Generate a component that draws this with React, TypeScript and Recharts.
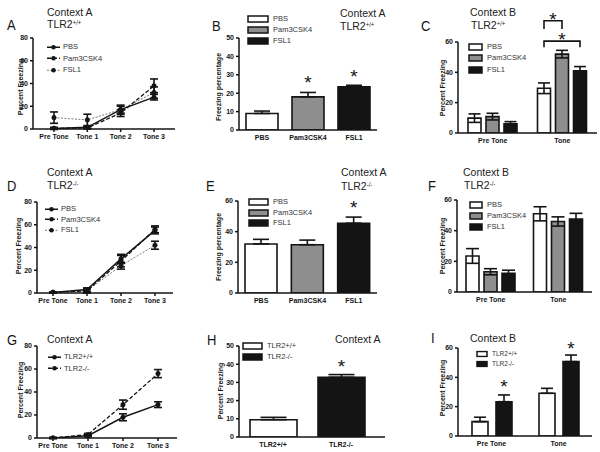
import React from 'react';
import { ComposedChart, Bar, Line, XAxis, YAxis, ErrorBar, LabelList, Cell } from 'recharts';

const FONT = '"Liberation Sans", Arial, Helvetica, sans-serif';
const INK = '#141414';
const GREY = '#8e8e8e';
const WHITE = '#ffffff';

// ---------- categories ----------
const timeCats = ['Pre Tone', 'Tone 1', 'Tone 2', 'Tone 3'];
const drugCats = ['PBS', 'Pam3CSK4', 'FSL1'];
const phaseCats = ['Pre Tone', 'Tone'];
const genoCats = ['TLR2+/+', 'TLR2-/-'];

// ---------- tick labels ----------
const ticks80 = [0, 20, 40, 60, 80];
const ticks60 = [0, 20, 40, 60];
const ticks50 = [0, 10, 20, 30, 40, 50];

// ---------- A : Context A, TLR2+/+ ----------
const aPbs = [0.5, 1.5, 17, 28];
const aPbsErr = [0.8, 1, 3, 2.5];
const aPam = [0.5, 1, 14, 38];
const aPamErr = [0.8, 1, 3, 6];
const aFsl = [10, 8, 17, 32];
const aFslErr = [5, 5, 4, 5];

// ---------- B ----------
const bMean = [9, 18, 23.5];
const bErr = [1.3, 2.4, 0.8];
const bStar = [null, 28, 31.5];

// ---------- C : Context B, TLR2+/+ ----------
const cPbs = [9.8, 29.5];
const cPbsErr = [2.8, 3.5];
const cPam = [10.8, 52];
const cPamErr = [2.2, 2.5];
const cFsl = [6, 41];
const cFslErr = [1.5, 2.8];
const cBracketSpan = [1, 2];
const cBracketTop = [74, 60.6];
const cBracketFoot = [68.5, 56.5];
const cBracketStar = [77.5, 64.5];

// ---------- D : Context A, TLR2-/- ----------
const dPbs = [0.5, 3, 30, 55];
const dPbsErr = [0.5, 1.5, 4, 3];
const dPam = [0.5, 2, 28, 56];
const dPamErr = [0.5, 2, 5, 3];
const dFsl = [0.5, 2, 24, 42];
const dFslErr = [0.5, 1.5, 3, 3.5];

// ---------- E ----------
const eMean = [32, 31.5, 45.5];
const eErr = [3, 3, 4];
const eStar = [null, null, 59];

// ---------- F : Context B, TLR2-/- ----------
const fPbs = [23.5, 51];
const fPbsErr = [4.8, 4.6];
const fPam = [13.2, 46];
const fPamErr = [2, 3];
const fFsl = [12.2, 47.5];
const fFslErr = [2, 3.8];

// ---------- G ----------
const gWt = [0, 2, 18, 29];
const gWtErr = [0.5, 1, 3, 2.5];
const gKo = [0, 3, 29, 56];
const gKoErr = [0.5, 1, 4, 3.5];

// ---------- H ----------
const hMean = [9.5, 32.8];
const hErr = [1.3, 1.5];
const hStar = [null, 41.4];

// ---------- I ----------
const iWt = [9.8, 29.1];
const iWtErr = [3, 3.4];
const iKo = [23.4, 50.7];
const iKoErr = [4.6, 4.5];
const iStar = [37, 63];

// ================= helpers =================
type Box = { left: number; top: number; axisX: number; yTop: number; yZero: number; axisEnd: number };
const axisStroke = { stroke: INK, strokeWidth: 1.5 };
const tickFont = { fontSize: 7, fontWeight: 700, fill: INK, fontFamily: FONT };

function dims(b: Box) {
  return {
    width: b.axisEnd - b.left + 2,
    height: b.yZero - b.top + 24,
    margin: { top: b.yTop - b.top, right: 2, bottom: 0, left: 0 },
  };
}

function xAxisEl(pad: { left: number; right: number }, tickLine: boolean) {
  return (
    <XAxis
      dataKey="name"
      type="category"
      height={24}
      padding={pad}
      tick={tickFont}
      tickSize={3}
      tickLine={tickLine ? axisStroke : false}
      axisLine={axisStroke}
      interval={0}
    />
  );
}

function yAxisEl(b: Box, ticks: number[]) {
  return (
    <YAxis
      type="number"
      domain={[0, ticks[ticks.length - 1]]}
      ticks={ticks}
      width={b.axisX - b.left}
      tick={tickFont}
      tickSize={3}
      tickLine={axisStroke}
      axisLine={axisStroke}
      interval={0}
      allowDataOverflow
    />
  );
}

function geom(p: any) {
  const vb = p.viewBox && typeof p.viewBox.x === 'number' ? p.viewBox : p;
  const x = Number(vb.x);
  const y = Number(vb.y);
  const w = Number(vb.width);
  const h = Number(vb.height);
  const top = Math.min(y, y + h);
  const hh = Math.abs(h);
  return { x, w, top, h: hh, base: top + hh };
}

function starText(x: number, y: number, key: string) {
  return (
    <text key={key} x={x} y={y + 11} textAnchor="middle" fontSize={19} fontFamily={FONT} fill={INK}>
      *
    </text>
  );
}

const starLabel = (vals: number[], stars: (number | null)[]) => (props: any) => {
  const i = props.index;
  const s = stars[i];
  if (s == null) return null;
  const g = geom(props);
  const k = g.h / vals[i];
  return starText(g.x + g.w / 2, g.base - s * k, 'st' + i);
};

const cBracketLabel = (vals: number[], gap: number) => (props: any) => {
  const i = props.index;
  if (i !== 1) return null;
  const g = geom(props);
  const k = g.h / vals[i];
  const x0 = g.x + g.w / 2;
  const step = g.w + gap;
  return (
    <g key="brackets">
      {cBracketSpan.map((span, j) => {
        const x1 = x0 + span * step;
        const yt = g.base - cBracketTop[j] * k;
        const yf = g.base - cBracketFoot[j] * k;
        const ys = g.base - cBracketStar[j] * k;
        return (
          <g key={j}>
            <path d={`M${x0},${yf}V${yt}H${x1}V${yf}`} fill="none" stroke={INK} strokeWidth={1.6} />
            {starText((x0 + x1) / 2, ys, 'bs' + j)}
          </g>
        );
      })}
    </g>
  );
};

// ================= panels =================
type LS = { key: string; vals: number[]; errs: number[]; stroke: string; width: number; dash?: string };

function LinePanel({ box, series, ticks, pad }: { box: Box; series: LS[]; ticks: number[]; pad: { left: number; right: number } }) {
  const data = timeCats.map((name, i) => {
    const row: Record<string, any> = { name };
    series.forEach((s) => {
      row[s.key] = s.vals[i];
      row[s.key + 'Err'] = s.errs[i];
    });
    return row;
  });
  const d = dims(box);
  return (
    <div style={{ position: 'absolute', left: box.left, top: box.top }}>
      <ComposedChart width={d.width} height={d.height} margin={d.margin} data={data}>
        {xAxisEl(pad, true)}
        {yAxisEl(box, ticks)}
        {series.map((l) => (
          <Line
            key={l.key}
            dataKey={l.key}
            type="linear"
            stroke={l.stroke}
            strokeWidth={l.width}
            strokeDasharray={l.dash}
            dot={{ r: 2.3, fill: INK, stroke: INK, strokeWidth: 0.5, strokeDasharray: 'none' }}
            activeDot={false}
            isAnimationActive={false}
          >
            <ErrorBar dataKey={l.key + 'Err'} width={4} strokeWidth={1.6} stroke={INK} direction="y" />
          </Line>
        ))}
      </ComposedChart>
    </div>
  );
}

function CatBarPanel({ box, cats, vals, errs, stars, fills, ticks, barSize, cap, pad }: any) {
  const data = cats.map((name: string, i: number) => ({ name, v: vals[i], e: [0, errs[i]] }));
  const d = dims(box);
  return (
    <div style={{ position: 'absolute', left: box.left, top: box.top }}>
      <ComposedChart width={d.width} height={d.height} margin={d.margin} data={data}>
        {xAxisEl(pad, false)}
        {yAxisEl(box, ticks)}
        <Bar dataKey="v" barSize={barSize} stroke={INK} strokeWidth={1.6} isAnimationActive={false}>
          {cats.map((c: string, i: number) => (
            <Cell key={c} fill={fills[i]} />
          ))}
          <ErrorBar dataKey="e" width={cap} strokeWidth={1.6} stroke={INK} direction="y" />
          <LabelList dataKey="v" content={starLabel(vals, stars)} />
        </Bar>
      </ComposedChart>
    </div>
  );
}

type BS = { key: string; vals: number[]; errs: number[]; fill: string; stars?: (number | null)[] };

function GroupBarPanel({ box, cats, series, ticks, barSize, barGap, cap, upper, brackets }: any) {
  const data = cats.map((name: string, i: number) => {
    const row: Record<string, any> = { name };
    (series as BS[]).forEach((s) => {
      row[s.key] = s.vals[i];
      row[s.key + 'Err'] = upper ? [0, s.errs[i]] : s.errs[i];
    });
    return row;
  });
  const d = dims(box);
  return (
    <div style={{ position: 'absolute', left: box.left, top: box.top }}>
      <ComposedChart width={d.width} height={d.height} margin={d.margin} data={data} barGap={barGap} barSize={barSize}>
        {xAxisEl({ left: 0, right: 0 }, false)}
        {yAxisEl(box, ticks)}
        {(series as BS[]).map((s, si) => (
          <Bar key={s.key} dataKey={s.key} fill={s.fill} barSize={barSize} stroke={INK} strokeWidth={1.6} isAnimationActive={false}>
            <ErrorBar dataKey={s.key + 'Err'} width={cap} strokeWidth={1.6} stroke={INK} direction="y" />
            {s.stars ? <LabelList dataKey={s.key} content={starLabel(s.vals, s.stars)} /> : null}
            {si === 0 && brackets ? <LabelList dataKey={s.key} content={brackets(s.vals, barGap)} /> : null}
          </Bar>
        ))}
      </ComposedChart>
    </div>
  );
}

// ================= text overlays =================
function Txt({ x, y, size, weight = 400, color = INK, sy = 1, children }: any) {
  return (
    <div
      style={{
        position: 'absolute',
        left: x,
        top: y,
        fontSize: size,
        fontWeight: weight,
        color,
        fontFamily: FONT,
        lineHeight: 1,
        whiteSpace: 'nowrap',
        transform: `translateY(-50%) scaleY(${sy})`,
        transformOrigin: 'left center',
      }}
    >
      {children}
    </div>
  );
}

function Geno({ x, y, sup }: { x: number; y: number; sup: string }) {
  return (
    <Txt x={x} y={y} size={10.5} sy={1.05} color="#222">
      TLR2<span style={{ fontSize: 6, position: 'relative', top: -3 }}>{sup}</span>
    </Txt>
  );
}

function Title({ x, y, text }: { x: number; y: number; text: string }) {
  return (
    <Txt x={x} y={y} size={10.5} sy={1.05} color="#222">
      {text}
    </Txt>
  );
}

function VLabel({ x, y, text }: { x: number; y: number; text: string }) {
  return (
    <div
      style={{
        position: 'absolute',
        left: x,
        top: y,
        transform: 'translate(-50%,-50%) rotate(-90deg)',
        fontSize: 7,
        fontWeight: 700,
        fontFamily: FONT,
        whiteSpace: 'nowrap',
        lineHeight: 1,
        color: INK,
      }}
    >
      {text}
    </div>
  );
}

function LineLegend({ x, y, dy, items }: { x: number; y: number; dy: number; items: { label: string; stroke: string; dash?: string; width: number }[] }) {
  return (
    <>
      {items.map((it, i) => (
        <div key={it.label} style={{ position: 'absolute', left: x, top: y + i * dy, transform: 'translateY(-50%)', display: 'flex', alignItems: 'center' }}>
          <svg width={13} height={6} style={{ display: 'block' }}>
            <line x1={0} y1={3} x2={13} y2={3} stroke={it.stroke} strokeWidth={it.width} strokeDasharray={it.dash} />
            <circle cx={6.5} cy={3} r={2.3} fill={INK} />
          </svg>
          <span style={{ marginLeft: 3, fontSize: 7.5, color: '#333', fontFamily: FONT, lineHeight: 1 }}>{it.label}</span>
        </div>
      ))}
    </>
  );
}

function BoxLegend({ x, y, dy, bw, bh, items, fs = 7.5 }: { x: number; y: number; dy: number; bw: number; bh: number; items: { label: string; fill: string }[]; fs?: number }) {
  return (
    <>
      {items.map((it, i) => (
        <div key={it.label} style={{ position: 'absolute', left: x, top: y + i * dy, transform: 'translateY(-50%)', display: 'flex', alignItems: 'center' }}>
          <svg width={bw + 2} height={bh + 2} style={{ display: 'block' }}>
            <rect x={1} y={1} width={bw} height={bh} fill={it.fill} stroke={INK} strokeWidth={1.5} />
          </svg>
          <span style={{ marginLeft: 4, fontSize: fs, color: '#333', fontFamily: FONT, lineHeight: 1 }}>{it.label}</span>
        </div>
      ))}
    </>
  );
}

// ================= layout =================
const boxA: Box = { left: 0, top: 0, axisX: 33, yTop: 38, yZero: 129, axisEnd: 175 };
const boxB: Box = { left: 200, top: 0, axisX: 239, yTop: 38, yZero: 130, axisEnd: 377 };
const boxC: Box = { left: 400, top: 0, axisX: 458, yTop: 42, yZero: 133, axisEnd: 597 };
const boxD: Box = { left: 0, top: 150, axisX: 37, yTop: 202, yZero: 293, axisEnd: 173 };
const boxE: Box = { left: 200, top: 150, axisX: 238, yTop: 201, yZero: 293, axisEnd: 377 };
const boxF: Box = { left: 400, top: 150, axisX: 457, yTop: 200, yZero: 292, axisEnd: 592 };
const boxG: Box = { left: 0, top: 300, axisX: 37, yTop: 346, yZero: 438, axisEnd: 177 };
const boxH: Box = { left: 200, top: 300, axisX: 239, yTop: 346, yZero: 437, axisEnd: 385 };
const boxI: Box = { left: 400, top: 300, axisX: 458, yTop: 348, yZero: 436, axisEnd: 592 };

const pbsStyle = { stroke: INK, width: 1.5, dash: undefined as string | undefined };
const pamStyle = { stroke: INK, width: 1.3, dash: '4 2' };
const fslStyle = { stroke: '#7a7a7a', width: 1, dash: '2 1.5' };
const drugFills = [WHITE, GREY, INK];
const genoFills = [WHITE, INK];

const drugLineItems = drugCats.map((label, i) => ({ label, ...[pbsStyle, pamStyle, fslStyle][i] }));
const genoLineItems = genoCats.map((label, i) => ({ label, ...[pbsStyle, pamStyle][i] }));
const drugBoxItems = drugCats.map((label, i) => ({ label, fill: drugFills[i] }));
const genoBoxItems = genoCats.map((label, i) => ({ label, fill: genoFills[i] }));

export default function App() {
  return (
    <div style={{ position: 'absolute', left: 0, top: 0, width: 600, height: 452, overflow: 'hidden', background: '#fff', fontFamily: FONT }}>
      {/* A */}
      <LinePanel
        box={boxA}
        ticks={ticks80}
        pad={{ left: 21, right: 21 }}
        series={[
          { key: 'fsl', vals: aFsl, errs: aFslErr, ...fslStyle },
          { key: 'pam', vals: aPam, errs: aPamErr, ...pamStyle },
          { key: 'pbs', vals: aPbs, errs: aPbsErr, ...pbsStyle },
        ]}
      />
      {/* B */}
      <CatBarPanel box={boxB} cats={drugCats} vals={bMean} errs={bErr} stars={bStar} fills={drugFills} ticks={ticks50} barSize={32} cap={8} pad={{ left: 0, right: 0 }} />
      {/* C */}
      <GroupBarPanel
        box={boxC}
        cats={phaseCats}
        ticks={ticks60}
        barSize={13}
        barGap={5}
        cap={6}
        upper={false}
        brackets={cBracketLabel}
        series={[
          { key: 'pbs', vals: cPbs, errs: cPbsErr, fill: WHITE },
          { key: 'pam', vals: cPam, errs: cPamErr, fill: GREY },
          { key: 'fsl', vals: cFsl, errs: cFslErr, fill: INK },
        ]}
      />
      {/* D */}
      <LinePanel
        box={boxD}
        ticks={ticks80}
        pad={{ left: 16, right: 18 }}
        series={[
          { key: 'fsl', vals: dFsl, errs: dFslErr, ...fslStyle },
          { key: 'pam', vals: dPam, errs: dPamErr, ...pamStyle },
          { key: 'pbs', vals: dPbs, errs: dPbsErr, ...pbsStyle },
        ]}
      />
      {/* E */}
      <CatBarPanel box={boxE} cats={drugCats} vals={eMean} errs={eErr} stars={eStar} fills={drugFills} ticks={ticks60} barSize={32} cap={8} pad={{ left: 0, right: 0 }} />
      {/* F */}
      <GroupBarPanel
        box={boxF}
        cats={phaseCats}
        ticks={ticks60}
        barSize={13}
        barGap={5}
        cap={6.5}
        upper={false}
        series={[
          { key: 'pbs', vals: fPbs, errs: fPbsErr, fill: WHITE },
          { key: 'pam', vals: fPam, errs: fPamErr, fill: GREY },
          { key: 'fsl', vals: fFsl, errs: fFslErr, fill: INK },
        ]}
      />
      {/* G */}
      <LinePanel
        box={boxG}
        ticks={ticks80}
        pad={{ left: 16, right: 19 }}
        series={[
          { key: 'ko', vals: gKo, errs: gKoErr, ...pamStyle },
          { key: 'wt', vals: gWt, errs: gWtErr, ...pbsStyle },
        ]}
      />
      {/* H */}
      <CatBarPanel box={boxH} cats={genoCats} vals={hMean} errs={hErr} stars={hStar} fills={genoFills} ticks={ticks50} barSize={47} cap={13} pad={{ left: 0, right: 10 }} />
      {/* I */}
      <GroupBarPanel
        box={boxI}
        cats={phaseCats}
        ticks={ticks60}
        barSize={16}
        barGap={8}
        cap={6}
        upper={true}
        series={[
          { key: 'wt', vals: iWt, errs: iWtErr, fill: WHITE },
          { key: 'ko', vals: iKo, errs: iKoErr, fill: INK, stars: iStar },
        ]}
      />

      {/* panel letters */}
      <Txt x={7} y={25} size={13} sy={1.1}>A</Txt>
      <Txt x={212} y={25.5} size={13} sy={1.1}>B</Txt>
      <Txt x={421} y={26} size={13} sy={1.1}>C</Txt>
      <Txt x={7} y={186} size={13} sy={1.1}>D</Txt>
      <Txt x={206} y={186} size={13} sy={1.1}>E</Txt>
      <Txt x={428} y={186} size={13} sy={1.1}>F</Txt>
      <Txt x={7} y={340} size={13} sy={1.1}>G</Txt>
      <Txt x={207} y={340} size={13} sy={1.1}>H</Txt>
      <Txt x={431} y={338} size={13} sy={1.1}>I</Txt>

      {/* titles */}
      <Title x={47} y={11.5} text="Context A" />
      <Geno x={47} y={24} sup="+/+" />
      <Title x={340} y={12.5} text="Context A" />
      <Geno x={340} y={25.5} sup="+/+" />
      <Title x={470} y={11.5} text="Context B" />
      <Geno x={471} y={24.5} sup="+/+" />
      <Title x={47} y={172} text="Context A" />
      <Geno x={47} y={185} sup="-/-" />
      <Title x={341} y={172} text="Context A" />
      <Geno x={341} y={185.5} sup="-/-" />
      <Title x={463} y={172} text="Context B" />
      <Geno x={464} y={185} sup="-/-" />
      <Title x={47} y={339} text="Context A" />
      <Title x={335} y={339} text="Context A" />
      <Title x={470} y={338} text="Context B" />

      {/* y-axis labels */}
      <VLabel x={20} y={87} text="Percent Freezing" />
      <VLabel x={218} y={87} text="Freezing percentage" />
      <VLabel x={442} y={88} text="Percent Freezing" />
      <VLabel x={18} y={246} text="Percent Freezing" />
      <VLabel x={218} y={247} text="Freezing percentage" />
      <VLabel x={442} y={246} text="Percent Freezing" />
      <VLabel x={20} y={390} text="Percent Freezing" />
      <VLabel x={220} y={391} text="Percent Freezing" />
      <VLabel x={442} y={388} text="Percent Freezing" />

      {/* legends */}
      <LineLegend x={47} y={47} dy={11.5} items={drugLineItems} />
      <BoxLegend x={247} y={19} dy={11} bw={20} bh={6} items={drugBoxItems} />
      <BoxLegend x={468} y={46.5} dy={11.5} bw={13} bh={6} items={drugBoxItems} />
      <LineLegend x={45} y={209} dy={10.5} items={drugLineItems} />
      <BoxLegend x={248} y={202} dy={10.5} bw={19} bh={6} items={drugBoxItems} />
      <BoxLegend x={469} y={205} dy={11} bw={12} bh={6} items={drugBoxItems} />
      <LineLegend x={48} y={357} dy={11.5} items={genoLineItems} />
      <BoxLegend x={242} y={345.5} dy={11.5} bw={19} bh={6} items={genoBoxItems} />
      <BoxLegend x={476} y={354} dy={10} bw={10} bh={5} items={genoBoxItems} fs={6.5} />
    </div>
  );
}
